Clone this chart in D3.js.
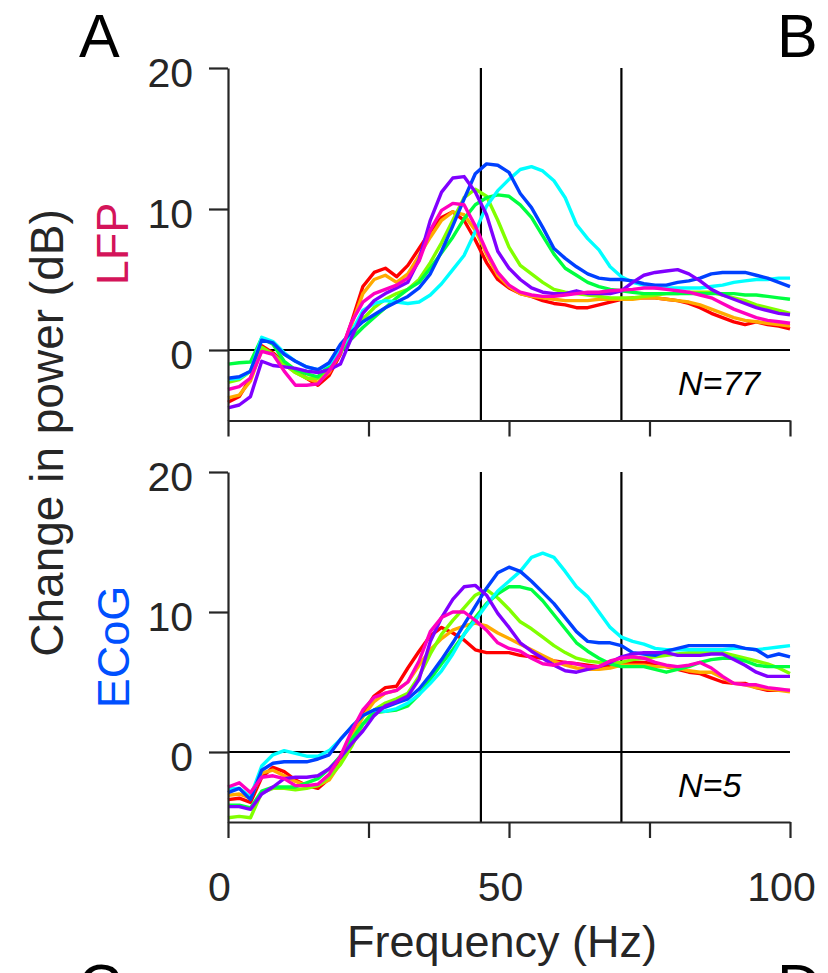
<!DOCTYPE html>
<html>
<head>
<meta charset="utf-8">
<script src="https://cdn.jsdelivr.net/npm/d3@7"></script>
<style>
  body { margin: 0; background: #fff; }
  text { font-family: "Liberation Sans", Arial, sans-serif; }
</style>
</head>
<body>
<div id="chart"></div>
<script>
// frequency bins (Hz)
const freqs = d3.range(0, 101, 2);

// LFP, change in power (dB)
const lfpRed     = [-3.7,-3.3,-2.0,0.3,-0.2,-0.9,-1.5,-2.0,-2.5,-1.8,-0.3,2.0,4.5,5.5,5.8,5.2,6.0,7.2,8.4,9.4,9.8,9.2,7.8,6.2,5.0,4.4,4.0,3.8,3.5,3.3,3.2,3.0,3.0,3.2,3.4,3.6,3.7,3.7,3.7,3.6,3.5,3.3,3.0,2.6,2.3,2.0,1.8,2.0,1.8,1.7,1.5];
const lfpOrange  = [-3.4,-3.2,-2.2,0.0,-0.3,-1.0,-1.6,-2.0,-2.3,-1.6,-0.2,1.8,4.0,5.0,5.3,4.8,5.4,6.7,8.0,9.2,9.8,9.6,8.5,6.8,5.3,4.5,4.0,3.8,3.7,3.6,3.5,3.5,3.5,3.6,3.6,3.6,3.6,3.7,3.7,3.6,3.5,3.4,3.2,2.9,2.6,2.3,2.1,2.0,1.9,1.8,1.7];
const lfpLime    = [-2.3,-2.1,-1.5,0.2,-0.3,-1.0,-1.6,-2.0,-2.0,-1.3,-0.2,1.0,2.2,3.0,3.6,4.0,4.3,5.0,6.2,7.6,9.2,10.8,11.4,10.9,9.2,7.3,6.0,5.4,4.8,4.3,4.1,4.0,3.9,3.8,3.7,3.7,3.7,3.8,3.9,4.0,4.0,4.1,4.1,4.1,3.9,3.7,3.5,3.2,3.0,2.8,2.6];
const lfpGreen   = [-1.0,-0.9,-0.85,0.85,0.4,-0.8,-1.4,-1.7,-1.9,-1.1,-0.1,0.8,1.6,2.3,3.0,3.7,4.3,4.8,5.8,6.9,8.0,9.3,10.3,10.8,11.0,10.9,10.3,9.4,8.1,6.8,5.8,5.3,4.8,4.5,4.3,4.2,4.1,4.0,4.0,4.0,4.0,4.0,4.0,4.0,4.0,4.0,3.9,3.9,3.8,3.7,3.6];
const lfpCyan    = [-2.1,-2.0,-1.5,0.9,0.6,-0.2,-0.8,-1.2,-1.4,-1.0,0.0,1.3,2.8,3.3,3.5,3.4,3.3,3.4,3.9,4.7,5.7,6.7,8.4,10.2,11.3,12.1,12.8,13.0,12.7,12.0,10.8,8.9,7.9,7.1,5.9,5.2,4.8,4.6,4.4,4.4,4.4,4.4,4.4,4.5,4.6,4.8,4.9,5.0,5.0,5.1,5.1];
const lfpBlue    = [-2.0,-1.9,-1.5,0.7,0.5,-0.3,-0.8,-1.2,-1.4,-0.9,0.4,1.3,2.0,2.5,3.0,3.4,3.8,4.4,5.4,7.0,8.8,10.7,12.5,13.2,13.1,12.6,11.1,10.1,8.7,7.2,6.5,5.9,5.4,5.1,5.0,5.0,4.9,4.7,4.6,4.6,4.8,4.9,5.1,5.4,5.5,5.5,5.5,5.3,5.1,4.8,4.5];
const lfpViolet  = [-4.1,-3.9,-3.3,-0.8,-1.1,-1.2,-1.3,-1.5,-1.6,-1.4,-1.0,0.9,2.6,3.5,4.0,4.4,4.8,6.4,9.2,11.2,12.2,12.3,11.2,9.6,7.0,5.8,5.0,4.4,4.1,4.0,4.0,4.2,4.0,4.0,4.0,4.2,4.8,5.3,5.5,5.6,5.7,5.4,4.9,4.3,3.9,3.6,3.3,3.0,2.8,2.6,2.5];
const lfpMagenta = [-2.8,-2.6,-2.0,-0.1,-0.3,-1.5,-2.5,-2.5,-2.4,-1.5,-0.2,2.0,3.4,4.0,4.3,4.6,5.1,6.3,8.5,9.9,10.4,10.3,8.8,7.0,5.5,4.6,4.1,3.9,3.8,3.8,3.9,4.0,4.1,4.1,4.2,4.25,4.3,4.4,4.4,4.3,4.2,4.1,3.9,3.7,3.3,2.9,2.6,2.3,2.1,2.0,1.9];

// ECoG, change in power (dB)
const ecogRed     = [-3.4,-3.3,-3.6,-1.8,-1.1,-1.4,-2.0,-2.4,-2.6,-1.9,-0.5,1.2,2.8,4.0,4.6,4.7,6.0,7.2,8.3,8.9,8.5,8.0,7.3,7.1,7.1,7.1,6.9,6.8,6.7,6.5,6.4,6.3,6.2,6.1,6.1,6.3,6.4,6.4,6.3,6.1,5.9,5.7,5.6,5.3,5.0,4.9,4.9,4.6,4.4,4.4,4.4];
const ecogOrange  = [-3.1,-3.0,-3.3,-1.5,-1.3,-1.7,-2.1,-2.4,-2.4,-2.0,-0.8,1.0,2.5,3.6,4.2,4.4,5.0,6.2,7.3,8.1,8.7,9.0,9.2,9.0,8.5,8.1,7.7,7.3,6.9,6.5,6.2,6.0,5.9,5.9,6.0,6.2,6.2,6.2,6.1,6.1,6.0,5.8,5.7,5.7,5.3,4.9,4.8,4.6,4.5,4.4,4.3];
const ecogLime    = [-4.7,-4.6,-4.7,-2.9,-2.6,-2.6,-2.7,-2.6,-2.4,-1.8,-0.9,0.4,2.0,3.0,3.5,3.8,4.2,5.4,7.0,8.4,9.4,10.3,11.2,11.6,11.0,10.2,9.3,8.8,8.2,7.6,7.1,6.7,6.5,6.4,6.4,6.4,6.6,6.7,6.8,6.9,7.0,7.1,7.1,7.1,7.1,6.9,6.7,6.5,6.3,6.0,5.6];
const ecogGreen   = [-3.8,-3.8,-4.0,-2.8,-2.5,-2.5,-2.5,-2.2,-1.9,-1.2,-0.3,0.9,2.0,2.8,2.9,3.0,3.3,4.1,5.2,6.3,7.3,8.4,9.6,10.6,11.3,11.8,11.8,11.6,10.8,9.8,8.8,7.8,7.2,6.7,6.3,6.1,6.1,6.1,5.9,5.7,5.9,6.1,6.4,6.6,6.7,6.7,6.5,6.2,6.1,6.1,6.1];
const ecogCyan    = [-2.6,-2.6,-3.2,-1.0,-0.2,0.1,-0.1,-0.3,-0.3,0.1,0.9,1.8,2.6,3.0,2.9,3.1,3.5,4.1,4.9,5.8,7.0,8.4,9.4,10.5,11.5,12.2,12.9,13.9,14.2,13.9,12.9,11.8,11.1,10.0,8.9,8.2,7.9,7.7,7.4,7.3,7.3,7.3,7.3,7.3,7.3,7.4,7.4,7.3,7.4,7.5,7.6];
const ecogBlue    = [-2.9,-2.6,-3.4,-1.3,-0.8,-0.7,-0.7,-0.7,-0.5,-0.2,0.9,1.8,2.6,3.0,3.2,3.5,3.8,4.5,5.5,6.6,7.8,9.1,10.4,11.7,12.8,13.2,12.9,12.2,11.4,10.6,9.6,8.6,7.9,7.8,7.8,7.6,7.1,7.0,6.9,7.2,7.4,7.6,7.6,7.6,7.6,7.6,7.4,7.3,6.8,7.0,6.8];
const ecogViolet  = [-3.9,-3.9,-4.1,-3.0,-2.5,-1.9,-1.8,-1.8,-1.7,-1.2,-0.4,0.6,1.5,2.6,3.3,3.6,4.0,5.2,7.9,9.6,10.9,11.8,11.9,11.2,9.9,8.9,7.8,7.2,6.7,6.2,5.8,5.7,5.9,6.1,6.4,6.8,7.0,7.1,7.1,7.1,6.9,6.9,6.9,7.0,7.0,6.6,6.2,5.7,5.4,5.4,5.4];
const ecogMagenta = [-2.5,-2.2,-2.9,-1.8,-1.7,-1.9,-2.4,-2.4,-2.3,-1.6,-0.3,1.5,3.0,3.9,4.2,4.4,5.0,6.5,8.6,9.6,10.0,10.0,9.4,8.7,7.8,7.4,7.2,6.7,6.3,6.2,6.4,6.3,6.1,6.1,6.5,6.7,6.8,6.7,6.4,6.2,6.1,6.2,6.4,6.0,5.4,4.9,4.8,4.8,4.6,4.5,4.4];

const colors = ["#ff0000", "#ffaa00", "#80ff00", "#00ff40", "#00ffff", "#0040ff", "#8000ff", "#ff00bf"];
const lfpSeries = [lfpRed, lfpOrange, lfpLime, lfpGreen, lfpCyan, lfpBlue, lfpViolet, lfpMagenta];
const ecogSeries = [ecogRed, ecogOrange, ecogLime, ecogGreen, ecogCyan, ecogBlue, ecogViolet, ecogMagenta];

const yTicks = [0, 10, 20];
const xTicks = [0, 25, 50, 75, 100];
const xLabels = [0, 50, 100];
const bandEdges = [45, 70];

const width = 828, height = 973;
const axisColor = "#262626";

const svg = d3.select("#chart").append("svg")
    .attr("width", width).attr("height", height);

const x = d3.scaleLinear().domain([0, 100]).range([228, 790]);

const panels = [
    { series: lfpSeries, y: d3.scaleLinear().domain([-5, 20]).range([420.5, 68]), n: "N=77", labels: false },
    { series: ecogSeries, y: d3.scaleLinear().domain([-5, 20]).range([822, 472]), n: "N=5", labels: true }
];

panels.forEach(p => {
    const g = svg.append("g");
    const y = p.y;

    // zero line and band edges
    g.append("line")
        .attr("x1", x(0)).attr("x2", x(100))
        .attr("y1", y(0)).attr("y2", y(0))
        .attr("stroke", "#000").attr("stroke-width", 2.2);

    bandEdges.forEach(f => {
        g.append("line")
            .attr("x1", x(f)).attr("x2", x(f))
            .attr("y1", y(20)).attr("y2", y(-5))
            .attr("stroke", "#000").attr("stroke-width", 2.2);
    });

    const line = d3.line()
        .x((d, i) => x(freqs[i]))
        .y(d => y(d));

    p.series.forEach((s, i) => {
        g.append("path")
            .datum(s)
            .attr("d", line)
            .attr("fill", "none")
            .attr("stroke", colors[i])
            .attr("stroke-width", 3.4)
            .attr("stroke-linejoin", "round");
    });

    // axes
    const yAxis = d3.axisLeft(y).tickValues(yTicks).tickSize(19).tickSizeOuter(0).tickPadding(16);
    const ya = g.append("g").attr("transform", "translate(" + x(0) + ",0)").call(yAxis);

    const xAxis = d3.axisBottom(x).tickValues(xTicks).tickSize(16).tickSizeOuter(0).tickPadding(34)
        .tickFormat(d => (p.labels && xLabels.includes(d)) ? d : "");
    const xa = g.append("g").attr("transform", "translate(0," + y(-5) + ")").call(xAxis);

    [ya, xa].forEach(a => {
        a.select(".domain").attr("stroke", axisColor).attr("stroke-width", 2.2);
        a.selectAll(".tick line").attr("stroke", axisColor).attr("stroke-width", 2.2);
        a.selectAll(".tick text")
            .attr("fill", axisColor)
            .style("font-size", "41px")
            .style("font-family", "'Liberation Sans', Arial, sans-serif");
    });
    ya.selectAll(".tick text").attr("dy", "0.44em");
    xa.selectAll(".tick text").attr("dx", -9);

    g.append("text")
        .attr("x", 678).attr("y", y(0) + 45)
        .style("font-size", "34px").style("font-style", "italic")
        .attr("fill", "#000")
        .text(p.n);
});

// axis titles
svg.append("text")
    .attr("transform", "translate(63,433) rotate(-90)")
    .attr("text-anchor", "middle")
    .style("font-size", "46px")
    .attr("fill", axisColor)
    .text("Change in power (dB)");

svg.append("text")
    .attr("transform", "translate(128,244) rotate(-90)")
    .attr("text-anchor", "middle")
    .style("font-size", "45px")
    .attr("fill", "#d4145a")
    .text("LFP");

svg.append("text")
    .attr("transform", "translate(129,647) rotate(-90)")
    .attr("text-anchor", "middle")
    .style("font-size", "45px")
    .attr("fill", "#0050ff")
    .text("ECoG");

svg.append("text")
    .attr("x", 502).attr("y", 957)
    .attr("text-anchor", "middle")
    .style("font-size", "45px")
    .attr("fill", axisColor)
    .text("Frequency (Hz)");

// panel letters (C and D belong to the next row and are cut at the bottom edge, as in the source figure)
[["A", 79, 57], ["B", 777, 57], ["C", 78, 1007], ["D", 777, 1007]].forEach(([t, lx, ly]) => {
    svg.append("text")
        .attr("x", lx).attr("y", ly)
        .style("font-size", "61px")
        .attr("fill", "#000")
        .text(t);
});
</script>
</body>
</html>
